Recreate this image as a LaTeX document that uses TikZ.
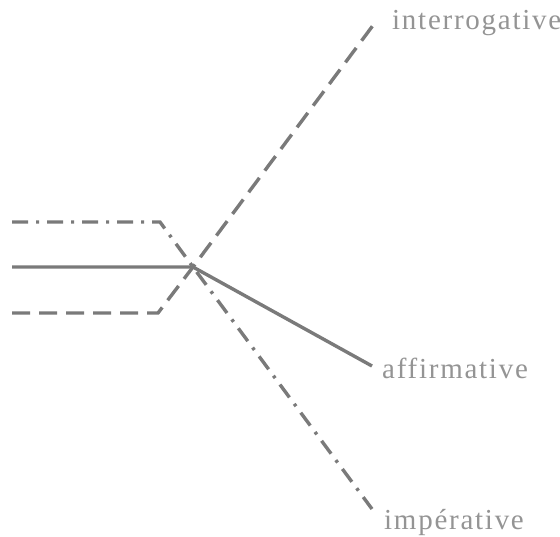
\documentclass[tikz,border=0pt]{standalone}
\usepackage{fontspec}
\setmainfont{Liberation Serif}
\newfontfamily\labfont[LetterSpace=6]{Liberation Serif}
\begin{document}
\begin{tikzpicture}[x=1pt,y=-1pt,
  ln/.style={line width=3.4pt,draw=black!52},
  dsh/.style={ln,dash pattern=on 18pt off 9pt},
  dshdot/.style={ln,dash pattern=on 16pt off 8pt on 3pt off 8pt},
  lab/.style={anchor=west,inner sep=0pt,text=black!42,font=\labfont\fontsize{29}{31}\selectfont}]
\useasboundingbox (0,0) rectangle (560,536);
% coordinates
\coordinate (x) at (193,267);
\coordinate (a1) at (12,222);
\coordinate (a2) at (160,222);
\coordinate (s1) at (12,267);
\coordinate (d1) at (12,313);
\coordinate (d2) at (158,313);
\coordinate (ei) at (377,20);
\coordinate (ea) at (372,366);
\coordinate (ep) at (372,509);
% labels
\node[lab] (int) at (392,23) {interrogative};
\node[lab] (aff) at (382,368) {affirmative};
\node[lab] (imp) at (384,522) {impérative};
% lines
\draw[dshdot] (a1) -- (a2) -- (x) -- (ep);
\draw[ln] (s1) -- (x) -- (ea);
\draw[dsh] (d1) -- (d2) -- (x) -- (ei);
\end{tikzpicture}
\end{document}
